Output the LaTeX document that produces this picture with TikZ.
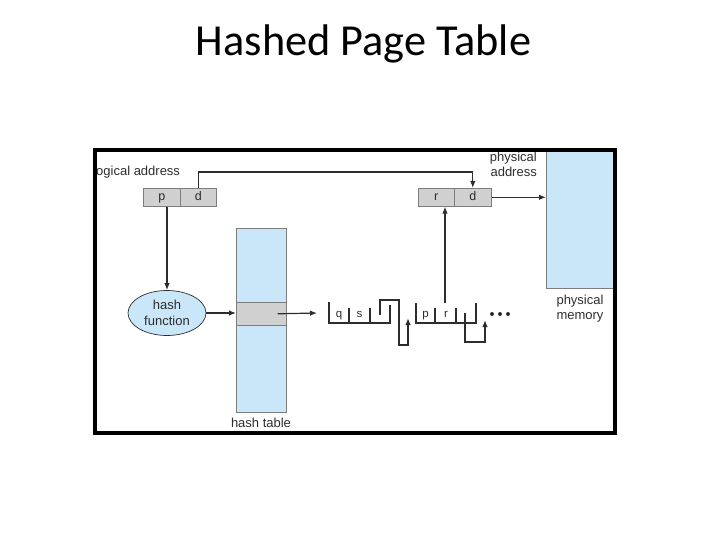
\documentclass[tikz,border=0pt]{standalone}
\usepackage{fontspec}
\setmainfont{Liberation Sans}
\newfontfamily\titlefont{Carlito}
\usetikzlibrary{arrows.meta,shapes.geometric}
\definecolor{lblue}{RGB}{201,231,248}
\definecolor{fgray}{RGB}{208,208,208}
\definecolor{bgray}{RGB}{125,125,125}
\definecolor{ink}{RGB}{45,45,45}
\tikzset{
  lbl/.style={font=\fontsize{13}{15}\selectfont, text=ink, inner sep=0pt},
  field/.style={draw=bgray, fill=fgray, line width=0.6pt, minimum height=18pt, inner sep=0pt,
    text height=8pt, text depth=2pt, font=\fontsize{12.5}{13}\selectfont, text=ink},
  tip/.style={-{Latex[length=7pt,width=5.5pt]}},
  conn/.style={draw=ink, line width=1.2pt},
  arr/.style={conn, tip},
  chain/.style={draw=ink, line width=1.3pt},
  ftxt/.style={font=\fontsize{11.5}{12}\selectfont, text=ink, inner sep=0pt, anchor=base}
}
\begin{document}
\begin{tikzpicture}[x=1pt,y=-1pt]
\useasboundingbox (0,0) rectangle (720,540);
% title
\node[font=\titlefont\fontsize{44.3}{50}\selectfont, anchor=base] (title) at (363.5,56) {Hashed Page Table};
% physical memory
\fill[lblue] (546,150) rectangle (613,288);
\draw[bgray, line width=0.8pt] (546,150) -- (546,288) -- (613,288);
\coordinate (pmw) at (546,219);
% logical address
\node[field, minimum width=37pt, anchor=north west] (p) at (143,188) {p};
\node[field, minimum width=36pt, anchor=north west] (d) at (180,188) {d};
\node[lbl, anchor=west] (la) at (96,172) {ogical address};
% physical address
\node[field, minimum width=36pt, anchor=north west] (r) at (418,188) {r};
\node[field, minimum width=37pt, anchor=north west] (d2) at (454,188) {d};
\node[lbl, anchor=east, align=right] (pa) at (537,164.5) {physical\\address};
\node[lbl, align=center] (pml) at (580,309) {physical\\memory};
% hash function
\node[ellipse, draw=ink, line width=0.7pt, fill=lblue, minimum width=78pt, minimum height=45pt,
  inner sep=0pt, align=center, font=\fontsize{13}{16}\selectfont, text=ink] (hash) at (167,313) {hash\\function};
% hash table
\node[draw=bgray, fill=lblue, line width=0.6pt, minimum width=50pt, minimum height=184pt,
  anchor=north west, inner sep=0pt] (ht) at (236,228) {};
\node[draw=bgray, fill=fgray, line width=0.6pt, minimum width=50pt, minimum height=23pt,
  anchor=north west, inner sep=0pt] (row) at (236,302) {};
\node[lbl] (htl) at (261,423) {hash table};
% chain node 1
\draw[chain] (329,302) -- (329,323) -- (390,323) -- (390,305);
\draw[chain] (349,308) -- (349,323);
\draw[chain] (370,308) -- (370,323);
\node[ftxt] (q) at (339,317.5) {q};
\node[ftxt] (s) at (359.5,317.5) {s};
\coordinate (n1) at (329,313);
\coordinate (n1ptr) at (380,315);
% chain node 2
\draw[chain] (416,303) -- (416,323) -- (476,323) -- (476,303);
\draw[chain] (435,308) -- (435,323);
\draw[chain] (456,308) -- (456,323);
\node[ftxt] (pp) at (425.5,317.5) {p};
\node[ftxt] (rr) at (446,317.5) {r};
\coordinate (rfield) at (445,303);
\coordinate (n2ptr) at (465,313);
\coordinate (n2in) at (408,318);
\coordinate (n3in) at (485,320);
% dots
\foreach \x in {492,500,508} \fill[ink] (\x,314) circle (2);
% connectors
\draw[arr] (d.north) -- ++(0,-16) -| (d2.north);
\draw[arr] (d2.east) -- (d2.east -| pmw);
\draw[arr] (hash.north |- p.south) -- (hash.north);
\draw[arr] (hash.east) -- (hash.east -| row.west);
\draw[arr] ([xshift=-9pt]row.east) -- ([xshift=-12pt]n1);
\draw[chain, tip] (n1ptr) -- ++(0,-15) -- ++(19,0) -- ++(0,45) -| (n2in);
\draw[chain, tip] (n2ptr) -- ++(0,29) -| (n3in);
\draw[arr] (rfield) -- (rfield |- r.south);
% frame
\draw[black, line width=4pt] (95,150) rectangle (615,433);
\end{tikzpicture}
\end{document}
